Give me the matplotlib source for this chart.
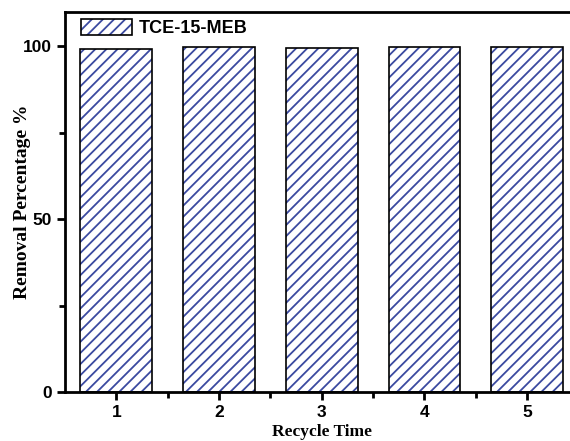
import matplotlib.pyplot as plt
from matplotlib.patches import Patch
import matplotlib as mpl

cycles = [1, 2, 3, 4, 5]
removal = [99.2, 99.8, 99.6, 99.8, 99.8]
series_name = 'TCE-15-MEB'

hatch_blue = '#3b4aa0'
mpl.rcParams['hatch.linewidth'] = 1.3

fig = plt.figure(figsize=(5.7, 4.41), dpi=100)
ax = fig.add_axes([0.114, 0.111, 0.901, 0.862])

# hatch drawn in blue first, black outline on top
ax.bar(cycles, removal, width=0.7, facecolor='white', edgecolor=hatch_blue,
       linewidth=0, hatch='///')
ax.bar(cycles, removal, width=0.7, facecolor='none', edgecolor='black',
       linewidth=1.2)

ax.set_xlim(0.5, 5.5)
ax.set_ylim(0, 110)
ax.set_xticks(cycles)
ax.set_xticks([1.5, 2.5, 3.5, 4.5], minor=True)
ax.set_yticks([0, 50, 100])
ax.set_yticks([25, 75], minor=True)

for s in ax.spines.values():
    s.set_linewidth(2)
ax.tick_params(which='major', direction='out', length=6, width=2)
ax.tick_params(which='minor', direction='out', length=4, width=2)
for lab in ax.get_xticklabels() + ax.get_yticklabels():
    lab.set_fontfamily('Liberation Sans')
    lab.set_fontweight('bold')
    lab.set_fontsize(12.5)

ax.set_xlabel('Recycle Time', fontfamily='Liberation Serif', fontweight='bold',
              fontsize=12.5, labelpad=3)
ax.set_ylabel('Removal Percentage %', fontfamily='Liberation Serif',
              fontweight='bold', fontsize=14, labelpad=-6)

handle = Patch(facecolor='white', edgecolor=hatch_blue, hatch='///', linewidth=0)
frame = Patch(facecolor='none', edgecolor='black', linewidth=1.2)
ax.legend([(handle, frame)], [series_name], loc='upper left', frameon=False,
          bbox_to_anchor=(0.018, 1.0), handlelength=2.8, handleheight=1.0,
          handletextpad=0.4, borderaxespad=0.0,
          prop={'family': 'Liberation Sans', 'weight': 'bold', 'size': 13})

fig.savefig('out.png', dpi=100)
